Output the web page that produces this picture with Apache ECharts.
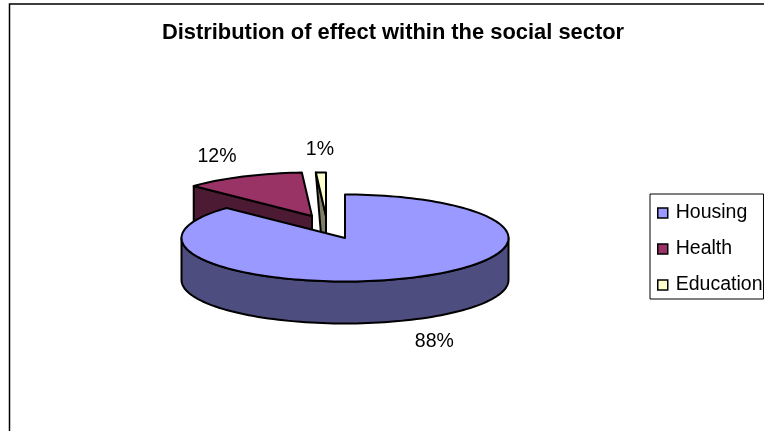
<!DOCTYPE html>
<html><head><meta charset="utf-8">
<style>html,body{margin:0;padding:0;background:#fff}#c{width:764px;height:431px}</style>
<script src="https://cdn.jsdelivr.net/npm/echarts@6/dist/echarts.min.js"></script>
</head><body><div id="c"></div>
<script>
const categories = ['Housing', 'Health', 'Education'];
const shareValues = [88, 12, 1];
const titleText = 'Distribution of effect within the social sector';

const topColors = {Housing: '#9999FF', Health: '#993366', Education: '#FFFFCC'};
const sideColors = {Housing: '#4D4D80', Health: '#4D1A33', Education: '#808066'};
const center = [345, 238], rx = 163.5, ry = 43.5, depth = 42;
const explode = {Housing: [0, 0], Health: [-33, -22], Education: [-19, -22]};
const cutFace = {Housing: 'none', Health: 'quad', Education: 'tri'};
const labelOffset = {Housing: [25, 64], Health: [-26, -20], Education: [-1, -23]};
const FONT = '"Liberation Sans", Arial, sans-serif';

const total = shareValues.reduce((a, b) => a + b, 0);
let acc = 0;
const spans = shareValues.map(v => { const s = acc; acc += v / total * 360; return [s, acc]; });

function pt(c, deg, dy) {
  const t = deg * Math.PI / 180;
  return [c[0] + rx * Math.sin(t), c[1] - ry * Math.cos(t) + (dy || 0)];
}
function arc(c, a, b, dy) {
  const n = Math.max(2, Math.ceil(Math.abs(b - a) / 2)), out = [];
  for (let i = 0; i <= n; i++) out.push(pt(c, a + (b - a) * i / n, dy));
  return out;
}
const lineStyle = {stroke: '#000', lineWidth: 2, lineJoin: 'round'};

function sliceRenderer(idx) {
  return function (params, api) {
    const name = categories[idx], [a, b] = spans[idx];
    const e = explode[name], c = [center[0] + e[0], center[1] + e[1]];
    const kids = [];
    const poly = (points, fill) => kids.push({type: 'polygon', shape: {points}, style: Object.assign({fill}, lineStyle)});
    const p = pt(c, a);
    if (cutFace[name] === 'quad') poly([p, c, [c[0], c[1] + depth], [p[0], p[1] + depth]], sideColors[name]);
    if (cutFace[name] === 'tri') poly([p, c, [c[0], c[1] + depth], [c[0] - 3, c[1] + depth]], sideColors[name]);
    const wa = Math.max(a, 90), wb = Math.min(b, 270);
    if (wb > wa) poly(arc(c, wa, wb).concat(arc(c, wb, wa, depth)), sideColors[name]);
    poly([c].concat(arc(c, a, b)), api.visual('color'));
    const m = pt(c, (a + b) / 2), o = labelOffset[name];
    kids.push({type: 'text', style: {
      x: m[0] + o[0], y: m[1] + o[1], text: Math.round(api.value(0)) + '%',
      fill: '#000', font: '19.5px ' + FONT, align: 'center', verticalAlign: 'middle'}});
    return {type: 'group', children: kids};
  };
}

const drawOrder = [1, 2, 0];
const chart = echarts.init(document.getElementById('c'), null, {renderer: 'canvas'});
chart.setOption({
  animation: false,
  backgroundColor: '#fff',
  title: {text: titleText, left: 388, top: 17, textAlign: 'center',
    textStyle: {fontFamily: FONT, fontSize: 21.9, fontWeight: 'bold', color: '#000'}},
  legend: {
    data: categories, orient: 'vertical', left: 650, top: 194,
    padding: [8, 1, 3, 7], itemWidth: 10, itemHeight: 10, itemGap: 14,
    icon: 'rect', selectedMode: false, borderColor: '#000', borderWidth: 1,
    backgroundColor: '#fff',
    itemStyle: {borderColor: '#000', borderWidth: 1.5},
    textStyle: {fontFamily: FONT, fontSize: 19.5, lineHeight: 22, color: '#000', padding: [0, 0, 0, 3]}
  },
  graphic: [{type: 'rect', silent: true, z: -1, shape: {x: 9.5, y: 4, width: 900, height: 600},
    style: {fill: '#fff', stroke: '#000', lineWidth: 1.5}}],
  series: drawOrder.map((i, z) => ({
    type: 'custom', name: categories[i], coordinateSystem: 'none', z: 2 + z,
    itemStyle: {color: topColors[categories[i]]},
    renderItem: sliceRenderer(i), data: [[shareValues[i]]]
  }))
});
</script></body></html>
